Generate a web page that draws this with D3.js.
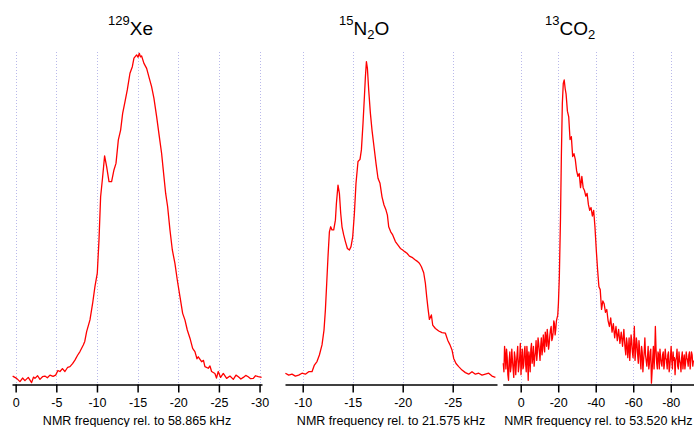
<!DOCTYPE html>
<html>
<head>
<meta charset="utf-8">
<title>NMR spectra</title>
<script src="https://cdn.jsdelivr.net/npm/d3@7"></script>
<style>
  body { margin: 0; background: #fff; }
  text { font-family: Helvetica, Arial, "Liberation Sans", sans-serif; }
</style>
</head>
<body>
<script>
// spectra: [frequency (kHz), intensity (a.u.)]
var xeSpec = [[0.37,1.2],[-0.12,0.5],[-0.53,-0.5],[-0.85,0.6],[-1.14,-0.2],[-1.55,0.8],[-1.96,-0.8],[-2.2,0.9],[-2.37,0.5],[-2.7,1.3],[-2.99,0.2],[-3.3,1.0],[-3.6,1.2],[-3.9,0.7],[-4.22,1.5],[-4.6,1.1],[-4.92,1.5],[-5.2,2.9],[-5.45,2.6],[-5.75,3.5],[-6.06,2.6],[-6.4,3.9],[-6.68,4.1],[-7.0,5.0],[-7.29,6.1],[-7.6,7.5],[-7.91,8.7],[-8.32,10.7],[-8.5,11.8],[-8.73,14.8],[-9.14,18.4],[-9.47,23.5],[-9.75,28.6],[-10.04,32.7],[-10.25,42.9],[-10.45,56.1],[-10.7,62.2],[-10.94,68.6],[-11.19,65.3],[-11.48,60.7],[-11.8,60.7],[-12.09,64.3],[-12.34,66.3],[-12.63,73.5],[-12.91,76.5],[-13.16,81.6],[-13.45,85.2],[-13.73,88.8],[-14.06,93.9],[-14.35,95.9],[-14.55,98.5],[-14.88,99.5],[-15.05,98.8],[-15.21,100],[-15.35,98.9],[-15.49,99.2],[-15.78,96.9],[-16.11,95.4],[-16.44,92.3],[-16.72,89.8],[-17.01,86.2],[-17.34,80.6],[-17.67,74.5],[-17.95,69.4],[-18.24,62.2],[-18.45,57.1],[-18.69,53.1],[-18.98,45.9],[-19.27,39.8],[-19.59,35.7],[-19.88,30.6],[-20.21,25.5],[-20.54,20.4],[-20.82,18.4],[-21.11,15.3],[-21.44,12.8],[-21.77,9.7],[-22.05,8.7],[-22.3,6.5],[-22.46,7.1],[-22.87,5.6],[-23.1,6.0],[-23.28,4.1],[-23.69,3.6],[-23.9,4.3],[-24.1,2.6],[-24.51,2.0],[-24.7,0.6],[-24.92,2.6],[-25.21,0.8],[-25.54,2.0],[-25.95,0.5],[-26.36,1.2],[-26.77,0.2],[-27.1,1.5],[-27.39,1.0],[-27.7,0.3],[-28.0,0.8],[-28.3,1.4],[-28.6,1.0],[-28.9,0.4],[-29.23,0.5],[-29.5,1.3],[-29.84,1.0],[-30.25,0.8]];

var n2oSpec = [[-8.27,1.1],[-8.6,0.5],[-8.93,0.8],[-9.27,0.2],[-9.6,0.5],[-9.93,1.1],[-10.27,0.8],[-10.6,1.6],[-10.93,1.6],[-11.17,3.7],[-11.43,4.8],[-11.67,6.9],[-11.93,10.1],[-12.13,14.8],[-12.27,21.2],[-12.4,29.6],[-12.53,38.1],[-12.67,46.0],[-12.8,47.6],[-12.93,46.6],[-13.1,46.6],[-13.27,49.7],[-13.37,55.0],[-13.53,60.8],[-13.67,58.2],[-13.8,51.9],[-13.93,47.6],[-14.1,45.0],[-14.27,42.9],[-14.47,40.7],[-14.67,40.2],[-14.83,41.3],[-15.0,44.4],[-15.17,51.9],[-15.33,61.4],[-15.53,68.3],[-15.73,69.0],[-15.87,72.0],[-16.03,80.4],[-16.17,88.9],[-16.27,95.2],[-16.37,100],[-16.47,97.9],[-16.6,91.0],[-16.77,83.6],[-16.93,78.3],[-17.13,73.0],[-17.33,67.7],[-17.53,63.0],[-17.73,61.4],[-17.93,57.1],[-18.13,54.5],[-18.33,52.9],[-18.47,51.3],[-18.6,47.6],[-18.8,46.0],[-19.0,45.0],[-19.27,42.9],[-19.53,41.8],[-19.77,40.7],[-20.0,40.2],[-20.2,39.7],[-20.43,39.2],[-20.67,38.3],[-20.93,37.9],[-21.2,37.2],[-21.43,36.7],[-21.67,36.0],[-21.87,34.9],[-22.1,33.0],[-22.27,29.6],[-22.4,25.4],[-22.53,21.7],[-22.67,18.2],[-22.87,19.6],[-23.0,16.4],[-23.27,15.3],[-23.6,14.5],[-23.93,14.0],[-24.27,13.8],[-24.5,11.6],[-24.73,10.1],[-24.93,8.5],[-25.1,5.8],[-25.33,4.2],[-25.6,3.2],[-25.93,2.1],[-26.27,1.3],[-26.6,0.8],[-26.93,1.6],[-27.27,0.8],[-27.6,1.1],[-27.93,0.5],[-28.27,0.8],[-28.6,1.1],[-28.93,0.2],[-29.27,-0.2]];

var co2Spec = [[9.3,0],[8.6,6],[7.9,-2],[7.2,2],[6.5,-6],[5.8,4],[5.1,-1],[4.4,1],[3.7,-5],[3.0,2],[2.3,0],[1.6,6],[0.9,-1],[0.2,7],[-0.5,1],[-1.2,-2],[-1.9,4],[-2.6,0],[-3.3,6],[-4.0,-6],[-4.7,2],[-5.4,5],[-6.1,0],[-6.8,6],[-7.5,2],[-8.2,8],[-8.9,4],[-9.6,7],[-10.3,1],[-11.0,9],[-11.7,5],[-12.4,7],[-13.1,11],[-13.8,6],[-14.5,9],[-15.2,7],[-15.9,12],[-16.6,8],[-17.3,11],[-18.0,14],[-18.7,12],[-19.4,16],[-20.1,21],[-20.6,30.6],[-21.2,50.6],[-21.7,74],[-22.2,91.8],[-22.7,98.8],[-23.2,100],[-23.7,97],[-24.2,95],[-24.9,89],[-25.6,87],[-26.3,79],[-27.0,80],[-27.7,73],[-28.4,74],[-29.1,72],[-29.8,68],[-30.5,66],[-31.2,67],[-31.9,62],[-32.6,66],[-33.3,62],[-34.0,61],[-34.7,59],[-35.4,60],[-36.1,56],[-36.8,54],[-37.5,55],[-38.2,52],[-38.9,54],[-39.6,48],[-40.3,40],[-41.0,33],[-41.7,27],[-42.4,26],[-43.1,19],[-43.8,22],[-44.5,21],[-45.2,18],[-45.9,19],[-46.6,15],[-47.3,13],[-48.0,16],[-48.7,11],[-49.4,14],[-50.1,9],[-50.8,13],[-51.5,8],[-52.2,12],[-52.9,7],[-53.6,11],[-54.3,6],[-55.0,12],[-55.7,5],[-56.4,9],[-57.1,2],[-57.8,9],[-58.5,5],[-59.2,8],[-59.9,2],[-60.6,13],[-61.3,4],[-62.0,7],[-62.7,0],[-63.4,5],[-64.1,-2],[-64.8,4],[-65.5,1],[-66.2,9],[-66.9,1],[-67.6,2],[-68.3,-2],[-69.0,4],[-69.7,-7],[-70.4,2],[-71.1,-2],[-71.8,13],[-72.5,0],[-73.2,4],[-73.9,-2],[-74.6,2],[-75.3,-1],[-76.0,4],[-76.7,0],[-77.4,2],[-78.1,-2],[-78.8,4],[-79.5,-1],[-80.2,6],[-80.9,-2],[-81.6,1],[-82.3,-4],[-83.0,2],[-83.7,-1],[-84.4,4],[-85.1,0],[-85.8,2],[-86.5,-2],[-87.2,3],[-87.9,0],[-88.6,2],[-89.3,-1],[-90.0,4],[-90.7,1],[-91.4,3],[-92.1,1]];

// extra samples in the noisy baseline, between the ones above
var co2Extra = [[8.95,-3],[8.25,3],[7.55,5],[6.85,-4],[6.15,1],[5.45,-3],[4.75,5],[4.05,-2],[3.35,4],[2.65,-4],[1.95,3],[1.25,-3],[0.55,2],[-0.15,-4],[-0.85,5],[-1.55,-1],[-2.25,6],[-2.95,-3],[-3.65,2],[-4.35,4],[-5.05,-3],[-5.75,7],[-6.45,2],[-7.15,-1],[-7.85,4],[-8.55,1],[-9.25,9],[-9.95,4],[-10.65,6],[-11.35,3],[-12.05,10],[-12.75,4],[-13.45,9],[-14.15,12],[-14.85,5],[-15.55,10],[-16.25,13],[-16.95,9],[-17.65,15],[-18.35,10],[-19.05,15],[-19.75,17],
  [-55.35,8],[-56.05,3],[-56.75,7],[-57.45,5],[-58.15,1],[-58.85,10],[-59.55,4],[-60.25,7],[-60.95,1],[-61.65,9],[-62.35,3],[-63.05,8],[-63.75,1],[-64.45,6],[-65.15,-3],[-65.85,4],[-66.55,3],[-67.25,-1],[-67.95,6],[-68.65,0],[-69.35,5],[-70.05,-3],[-70.75,6],[-71.45,3],[-72.15,5],[-72.85,-2],[-73.55,3],[-74.25,5],[-74.95,0],[-75.65,3],[-76.35,-2],[-77.05,5],[-77.75,1],[-78.45,3],[-79.15,-3],[-79.85,2],[-80.55,1],[-81.25,4],[-81.95,2],[-82.65,1],[-83.35,5],[-84.05,-2],[-84.75,1],[-85.45,-3],[-86.15,4],[-86.85,1],[-87.55,-2],[-88.25,4],[-88.95,1],[-89.65,3],[-90.35,-2],[-91.05,4],[-91.75,-1]];

var xeTicks = [0, -5, -10, -15, -20, -25, -30];
var n2oTicks = [-10, -15, -20, -25];
var co2Ticks = [0, -20, -40, -60, -80];

var xeTitle = "NMR frequency rel. to 58.865 kHz";
var n2oTitle = "NMR frequency rel. to 21.575 kHz";
var co2Title = "NMR frequency rel. to 53.520 kHz";

var W = 694, H = 427;
var axisY = 384.5, gridTop = 52;

var svg = d3.select("body").append("svg")
  .attr("width", W).attr("height", H);

var co2All = co2Spec.concat(co2Extra).sort(function(a, b) { return b[0] - a[0]; });

// one panel per nucleus
var panels = [
  { data: xeSpec, ticks: xeTicks, title: xeTitle, dom: [0.45, -30.3], rng: [12, 262], yr: [380, 53.3],
    label: [{t: "129", sup: true}, {t: "Xe"}], lx: 108 },
  { data: n2oSpec, ticks: n2oTicks, title: n2oTitle, dom: [-8.23, -29.43], rng: [285, 497], yr: [376.7, 61.7],
    label: [{t: "15", sup: true}, {t: "N"}, {t: "2", sub: true}, {t: "O"}], lx: 339 },
  { data: co2All, ticks: co2Ticks, title: co2Title, dom: [9.6, -92.4], rng: [502.7, 694], yr: [363.3, 80],
    label: [{t: "13", sup: true}, {t: "CO"}, {t: "2", sub: true}], lx: 545 }
];

panels.forEach(function(p) {
  var x = d3.scaleLinear().domain(p.dom).range(p.rng);
  var y = d3.scaleLinear().domain([0, 100]).range(p.yr);
  var g = svg.append("g");

  // dotted grid lines at the ticks
  g.selectAll("line.grid")
    .data(p.ticks)
    .enter().append("line")
    .attr("class", "grid")
    .attr("x1", function(d) { return Math.round(x(d)) + 0.5; })
    .attr("x2", function(d) { return Math.round(x(d)) + 0.5; })
    .attr("y1", gridTop).attr("y2", axisY)
    .attr("stroke", "#b9b9ea")
    .attr("stroke-width", 1)
    .attr("stroke-dasharray", "1,2");

  // spectrum
  var line = d3.line()
    .x(function(d) { return x(d[0]); })
    .y(function(d) { return y(d[1]); });
  g.append("path")
    .datum(p.data)
    .attr("d", line)
    .attr("fill", "none")
    .attr("stroke", "#ff0000")
    .attr("stroke-width", 1.3)
    .attr("stroke-linejoin", "round");

  // axis
  var ax = g.append("g")
    .attr("transform", "translate(0," + axisY + ")")
    .call(d3.axisBottom(x).tickValues(p.ticks).tickSize(8).tickSizeOuter(0)
      .tickFormat(function(d) { return String(d); }));
  ax.select(".domain").attr("stroke", "#000").attr("stroke-width", 1.5);
  ax.selectAll(".tick line").attr("stroke", "#000").attr("stroke-width", 1.5);
  ax.selectAll(".tick text")
    .attr("y", 14)
    .attr("font-size", 12.5)
    .attr("fill", "#000")
    .style("font-family", "Helvetica, Arial, 'Liberation Sans', sans-serif");

  g.append("text")
    .attr("x", (p.rng[0] + p.rng[1]) / 2)
    .attr("y", 425)
    .attr("text-anchor", "middle")
    .attr("font-size", 12.5)
    .text(p.title);

  // nucleus label with super/subscripts
  var t = g.append("text").attr("x", p.lx).attr("y", 35).attr("font-size", 19);
  p.label.forEach(function(s, i) {
    var sp = t.append("tspan").text(s.t);
    var prev = i > 0 ? p.label[i - 1] : null;
    var base = prev && prev.sup ? 10 : (prev && prev.sub ? -4 : 0);
    if (s.sup) { sp.attr("font-size", 13).attr("dy", base - 10); }
    else if (s.sub) { sp.attr("font-size", 13).attr("dy", base + 4); }
    else { sp.attr("dy", base); }
  });
});
</script>
</body>
</html>
